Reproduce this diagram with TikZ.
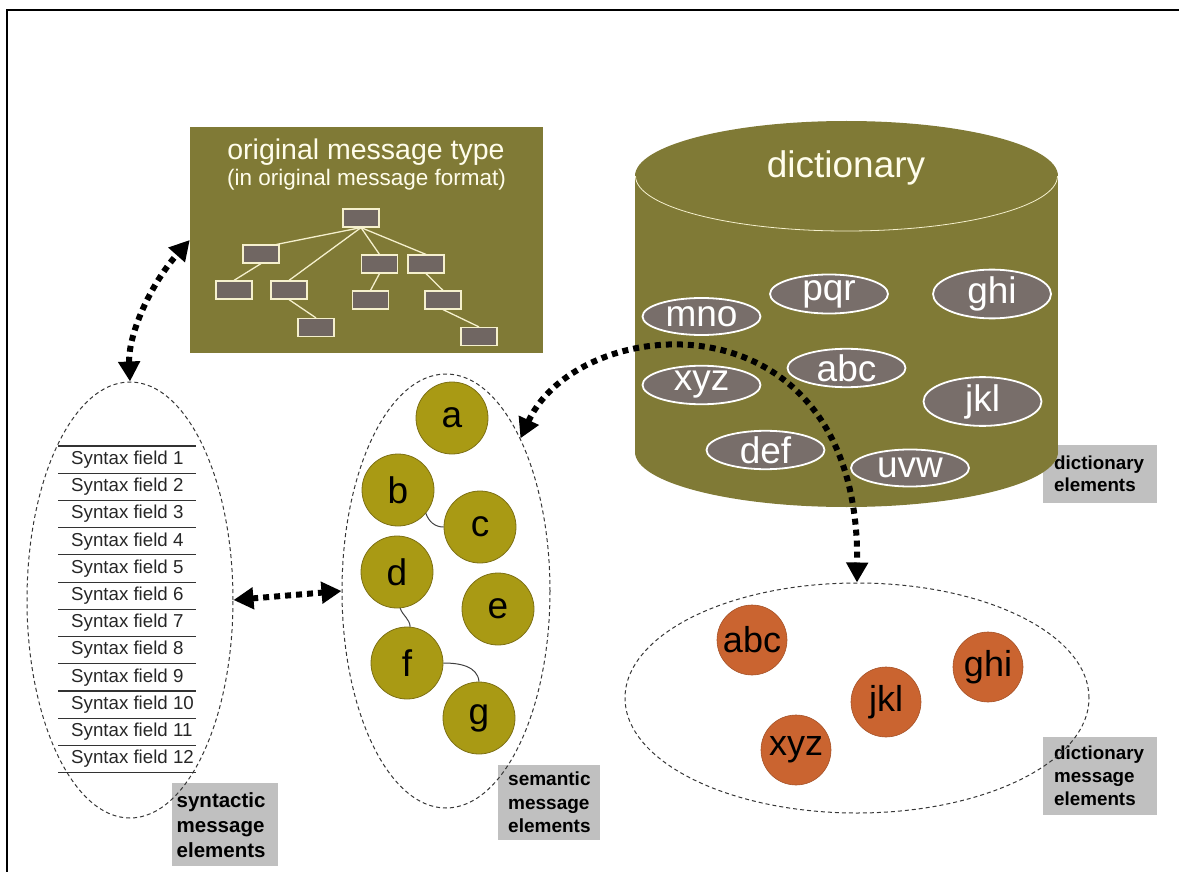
\documentclass[tikz,border=0pt]{standalone}
\usepackage{fontspec}
\setmainfont{Liberation Sans}
\usetikzlibrary{shapes.geometric,arrows.meta}
\definecolor{olivebg}{RGB}{128,122,54}
\definecolor{cream}{RGB}{245,240,205}
\definecolor{titletext}{RGB}{255,253,235}
\definecolor{dictel}{RGB}{120,110,106}
\definecolor{treebox}{RGB}{112,102,98}
\definecolor{semfill}{RGB}{169,154,20}
\definecolor{semline}{RGB}{125,112,20}
\definecolor{orangefill}{RGB}{202,100,48}
\definecolor{orangeline}{RGB}{165,82,40}
\definecolor{lblgray}{RGB}{192,192,192}
\definecolor{dashgray}{RGB}{55,55,55}
\begin{document}
\begin{tikzpicture}[x=1pt,y=-1pt,
  dashell/.style={draw=dashgray, dash pattern=on 4pt off 3pt, line width=1pt, ellipse, inner sep=0pt},
  treenode/.style={rectangle, fill=treebox, draw=cream, line width=1.2pt, minimum width=36pt, minimum height=18pt, inner sep=0pt},
  treeline/.style={draw=cream, line width=1.3pt},
  semc/.style={circle, fill=semfill, draw=semline, line width=0.8pt, minimum size=72pt, inner sep=0pt, font=\fontsize{37}{37}\selectfont},
  semlink/.style={draw=black!75, line width=1pt},
  dictc/.style={circle, fill=orangefill, draw=orangeline, line width=0.6pt, minimum size=70pt, inner sep=0pt, font=\fontsize{36}{36}\selectfont},
  dicte/.style={ellipse, fill=dictel, draw=white, line width=1.8pt, minimum width=118pt, minimum height=37pt, inner sep=0pt, text=white, font=\fontsize{37}{37}\selectfont},
  sfield/.style={anchor=west, inner sep=0pt, font=\fontsize{18.7}{18.7}\selectfont, text=black!85},
  lbl/.style={fill=lblgray, inner ysep=0pt, anchor=north west, align=left},
  darrow/.style={line width=6pt, dash pattern=on 6pt off 5pt, {Triangle[length=20pt,width=21pt]}-{Triangle[length=20pt,width=21pt]}},
]
\useasboundingbox (0,0) rectangle (1179,872);
% frame
\draw[line width=2pt] (7,872) -- (7,10) -- (1179,10);

% label boxes
\node[lbl, inner xsep=4.5pt, text width=97pt, minimum height=83pt, font=\bfseries\fontsize{20.5}{25}\selectfont] (lsyn) at (172,783) {syntactic\\message\\elements};
\node[lbl, inner xsep=10pt, text width=82pt, minimum height=75pt, font=\bfseries\fontsize{19}{23.5}\selectfont] (lsem) at (498,765) {semantic\\message\\elements};
\node[lbl, inner xsep=11pt, text width=92pt, minimum height=58pt, font=\bfseries\fontsize{18.8}{22}\selectfont] (ldict) at (1043,445) {dictionary\\elements};
\node[lbl, inner xsep=11pt, text width=92pt, minimum height=78pt, font=\bfseries\fontsize{18.8}{23}\selectfont] (ldme) at (1043,737) {dictionary\\message\\elements};

% dashed ellipses
\node[dashell, minimum width=206pt, minimum height=436pt] (syn) at (130,600) {};
\node[dashell, minimum width=208pt, minimum height=434pt] (sem) at (446,591) {};
\node[dashell, minimum width=464pt, minimum height=230pt] (dme) at (857,698) {};

% original message type box
\node[rectangle, fill=olivebg, minimum width=353pt, minimum height=226pt, inner sep=0pt] (box) at (366.5,240) {};
\node[text=titletext, font=\fontsize{28.5}{28.5}\selectfont, inner sep=0pt] (t1) at (366,152.6) {original message type};
\node[text=titletext, font=\fontsize{22.5}{22.5}\selectfont, inner sep=0pt] (t2) at (366.5,180) {(in original message format)};
\node[treenode] (root) at (361,218) {};
\node[treenode] (a1) at (261,254) {};
\node[treenode] (b1) at (379.5,264) {};
\node[treenode] (c1) at (426,264) {};
\node[treenode] (a2) at (234,290) {};
\node[treenode] (b2) at (289,290) {};
\node[treenode] (c2) at (370.5,300) {};
\node[treenode] (d2) at (443,300) {};
\node[treenode] (e3) at (316,327.5) {};
\node[treenode] (f3) at (479,336.5) {};
\draw[treeline] (root.south) -- ([xshift=-3pt]a1.north east);
\draw[treeline] (root.south) -- (b2.north);
\draw[treeline] (root.south) -- (b1.north);
\draw[treeline] (root.south) -- (c1.north);
\draw[treeline] (a1.south) -- (a2.north);
\draw[treeline] (b2.south) -- (e3.north);
\draw[treeline] (b1.south) -- (c2.north);
\draw[treeline] (c1.south) -- (d2.north);
\draw[treeline] (d2.south) -- (f3.north);

% dictionary cylinder
\fill[olivebg] (635,176) rectangle (1058,452);
\fill[olivebg] (846.5,452) ellipse [x radius=211.5, y radius=55];
\fill[olivebg] (846.5,176) ellipse [x radius=211.5, y radius=55];
\begin{scope}
  \clip (630,177) rectangle (1065,240);
  \draw[cream, line width=0.8pt] (846.5,176) ellipse [x radius=211, y radius=55];
\end{scope}
\node[text=titletext, font=\fontsize{37}{37}\selectfont, inner sep=0pt] (dt) at (846,168) {dictionary};
\node[dicte] (mno) at (701.5,316.5) {mno};
\node[dicte] (pqr) at (829,294) {pqr};
\node[dicte] (ghi) at (992,294) {ghi};
\node[dicte] (xyz) at (701.5,385) {xyz};
\node[dicte] (abc) at (846.5,368) {abc};
\node[dicte] (jkl) at (982.5,401.5) {jkl};
\node[dicte] (def) at (765.5,450) {def};
\node[dicte] (uvw) at (910,468) {uvw};

% syntax fields
\foreach \k in {0,...,12} {
  \draw[black!80, line width=1.1pt] (58,{446+27.22*\k}) -- (196,{446+27.22*\k});
}
\foreach \k in {1,...,12} {
  \node[sfield] (sf\k) at (71,{446+27.22*(\k-0.5)}) {Syntax field \k};
}

% semantic circles
\node[semc] (ca) at (452,418) {a};
\node[semc] (cb) at (398,490) {b};
\node[semc] (cc) at (480,527) {c};
\node[semc] (cd) at (397,572) {d};
\node[semc] (ce) at (498,609) {e};
\node[semc] (cf) at (407,663) {f};
\node[semc] (cg) at (479,718) {g};
\draw[semlink] (cb.-40) to[out=-70,in=180] (cc.west);
\draw[semlink] (cd.-85) to[out=-70,in=95] (cf.85);
\draw[semlink] (cf.east) to[out=0,in=95] (cg.north);

% dictionary message elements
\node[dictc] (mabc) at (752,640) {abc};
\node[dictc] (mjkl) at (886,702) {jkl};
\node[dictc] (mghi) at (988,667) {ghi};
\node[dictc] (mxyz) at (796,750) {xyz};

% dotted arrows
\draw[darrow] (syn.north) .. controls (128,335) and (150,285) .. (box.west);
\draw[darrow] (syn.east) -- (sem.west);
\draw[darrow] (sem.64) .. controls (580,310) and (860,290) .. (dme.north);
\end{tikzpicture}
\end{document}
